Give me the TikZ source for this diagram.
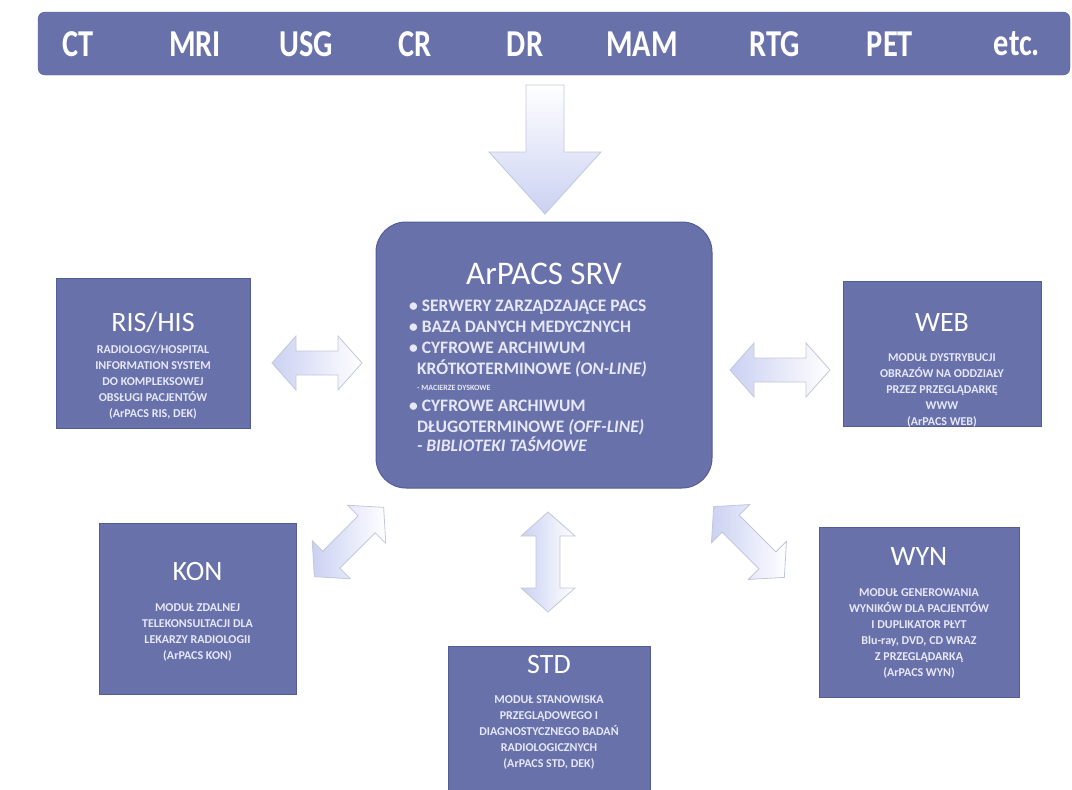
\documentclass[tikz,border=0pt]{standalone}
\usepackage{fontspec}
\setmainfont{Carlito}
\newfontfamily\barfont[FakeStretch=0.8]{Carlito}
\usepackage{xcolor}
\usepackage{tikz}
\usetikzlibrary{positioning,calc}
\definecolor{slate}{HTML}{6871AA}
\definecolor{slateedge}{HTML}{545C94}
\definecolor{pale}{HTML}{E6E8F8}
\definecolor{lav}{HTML}{CBD1F2}
\definecolor{lavedge}{HTML}{C3C7DC}
\tikzset{
  bar/.style={rectangle, rounded corners=7pt, fill=slate, draw=slateedge, inner sep=0pt},
  mod/.style={rectangle, fill=slate, draw=slateedge, line width=1pt, inner sep=0pt},
  srvbox/.style={mod, rounded corners=30pt},
  ttl/.style={font=\fontsize{28}{30}\selectfont, text=white, inner sep=0pt},
  txt/.style={font=\fontsize{12}{16}\selectfont\bfseries, text=pale, align=center,
              inner sep=0pt, anchor=north},
  lst/.style={font=\fontsize{17.5}{21}\selectfont\bfseries, text=pale, align=left,
              inner sep=0pt, anchor=north west},
  tag/.style={font=\barfont\bfseries\fontsize{38}{40}\selectfont, text=white, inner sep=0pt},
  blk/.style={draw=lavedge, line width=0.8pt, left color=lav, right color=white},
  dbl/.pic={\path[blk] (-#1,0) -- ++(24,27) -- ++(0,-15) -- (#1-24,12) -- ++(0,15)
            -- (#1,0) -- ++(-24,-27) -- ++(0,15) -- (-#1+24,-12) -- ++(0,-15) -- cycle;}
}

\begin{document}
\begin{tikzpicture}[x=1pt, y=-1pt]
  \useasboundingbox (0,0) rectangle (1072,790);
  % modalities
  \node[bar, minimum width=1032pt, minimum height=63pt] (bar) at (554,43.5) {};
  \foreach \x/\t [count=\i] in {78/CT, 195/MRI, 306/USG, 415/CR, 525/DR, 642/MAM,
                                775/RTG, 890/PET, 1017/etc.}
    \node[tag] (m\i) at (\x,44) {\t};

  % server
  \node[srvbox, minimum width=336pt, minimum height=266pt] (srv) at (544,355) {};
  \node[ttl, font=\fontsize{33}{35}\selectfont] (srvt) at (544,274) {ArPACS SRV};
  \node[lst] (srvl) at (409,300) {%
    \textbullet\ SERWERY ZARZĄDZAJĄCE PACS\\
    \textbullet\ BAZA DANYCH MEDYCZNYCH\\
    \textbullet\ CYFROWE ARCHIWUM\\
    \ \ KRÓTKOTERMINOWE \textit{(ON-LINE)}\\[-5pt]
    \ \ {\fontsize{8}{9}\selectfont - MACIERZE DYSKOWE}\\
    \textbullet\ CYFROWE ARCHIWUM\\
    \ \ DŁUGOTERMINOWE \textit{(OFF-LINE)}\\[-2pt]
    \ \ \textit{- BIBLIOTEKI TAŚMOWE}};

  % modules
  \node[mod, minimum width=194pt, minimum height=150pt] (ris) at (153,353) {};
  \node[ttl] (rist) at (153,322) {RIS/HIS};
  \node[txt] (risx) at (153,345) {RADIOLOGY/HOSPITAL\\INFORMATION SYSTEM\\DO KOMPLEKSOWEJ\\OBSŁUGI PACJENTÓW\\(ArPACS RIS, DEK)};

  \node[mod, minimum width=198pt, minimum height=145pt] (web) at (942,353.5) {};
  \node[ttl] (webt) at (942,323) {WEB};
  \node[txt] (webx) at (942,353) {MODUŁ DYSTRYBUCJI\\OBRAZÓW NA ODDZIAŁY\\PRZEZ PRZEGLĄDARKĘ\\WWW\\(ArPACS WEB)};

  \node[mod, minimum width=197pt, minimum height=171pt] (kon) at (197.5,608.5) {};
  \node[ttl] (kont) at (197.5,572) {KON};
  \node[txt] (konx) at (197.5,603) {MODUŁ ZDALNEJ\\TELEKONSULTACJI DLA\\LEKARZY RADIOLOGII\\(ArPACS KON)};

  \node[mod, minimum width=202pt, minimum height=144pt] (std) at (549,718) {};
  \node[ttl] (stdt) at (549,665) {STD};
  \node[txt] (stdx) at (549,695) {MODUŁ STANOWISKA\\PRZEGLĄDOWEGO I\\DIAGNOSTYCZNEGO BADAŃ\\RADIOLOGICZNYCH\\(ArPACS STD, DEK)};

  \node[mod, minimum width=200pt, minimum height=170pt] (wyn) at (919,612) {};
  \node[ttl] (wynt) at (919,557) {WYN};
  \node[txt] (wynx) at (919,588) {MODUŁ GENEROWANIA\\WYNIKÓW DLA PACJENTÓW\\I DUPLIKATOR PŁYT\\Blu-ray, DVD, CD WRAZ\\Z PRZEGLĄDARKĄ\\(ArPACS WYN)};

  % block arrows
  \draw[blk, top color=white, bottom color=lav] (526,85) -- (564,85) -- (564,152)
    -- (601,152) -- (545,214) -- (489,152) -- (526,152) -- cycle;
  \pic at (317,363) {dbl=45};
  \pic at (780,370) {dbl=50};
  \pic[rotate=90] at (548,562) {dbl=50};
  \pic[rotate=45] at (349,542) {dbl=49};
  \pic[rotate=-45] at (749,542) {dbl=50};
\end{tikzpicture}
\end{document}
